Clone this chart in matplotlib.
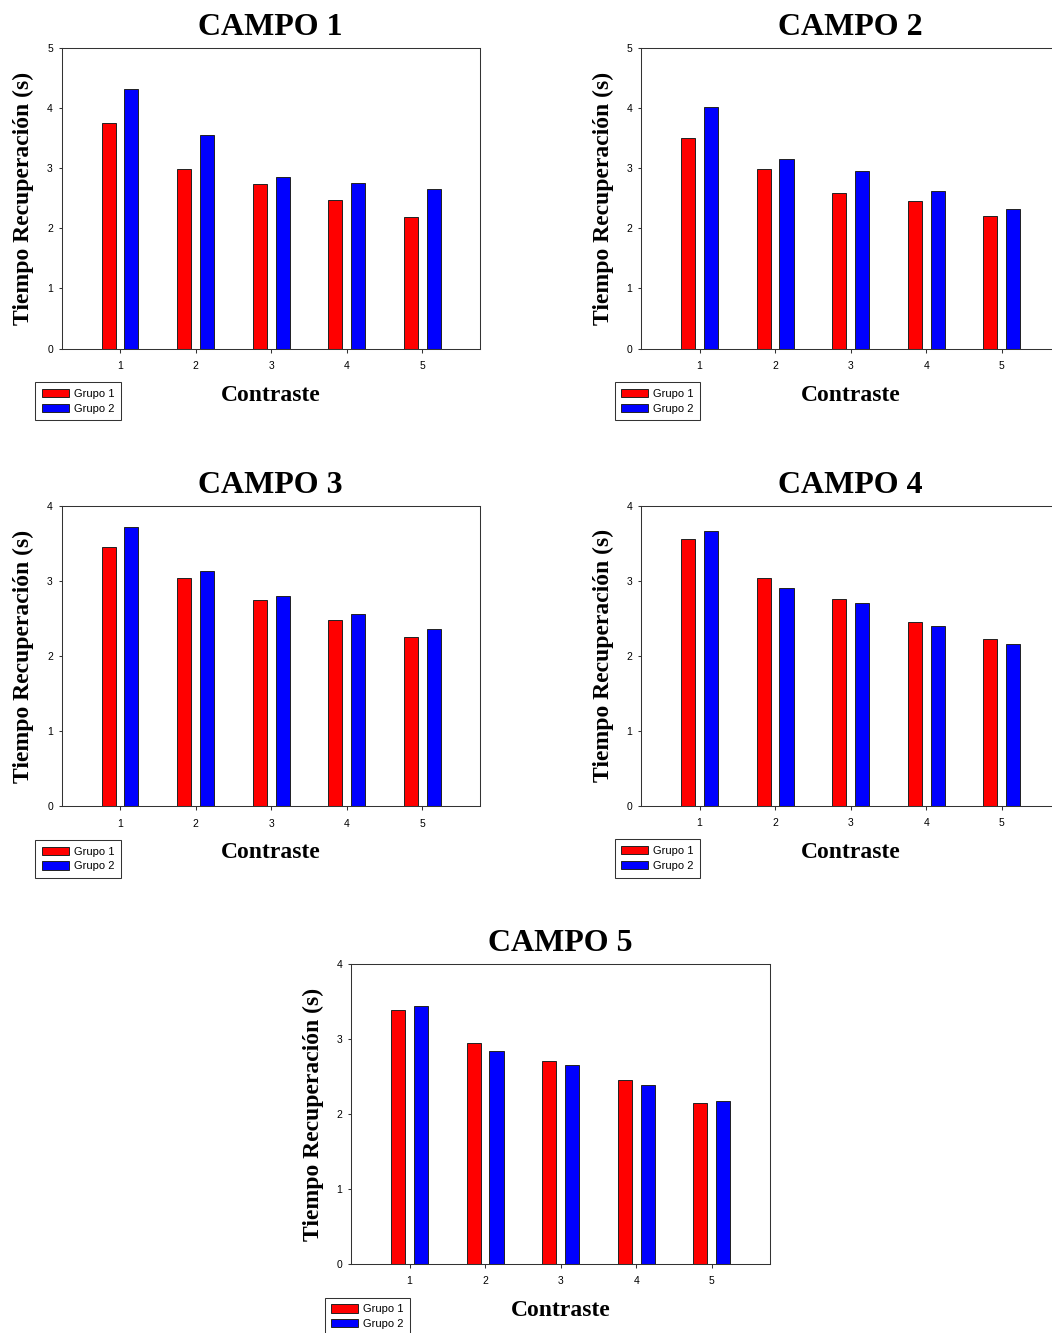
import numpy as np
import matplotlib
matplotlib.use("Agg")
import matplotlib.pyplot as plt

# ---- data ----
contraste = [1, 2, 3, 4, 5]
campo1_g1 = [3.75, 2.98, 2.74, 2.47, 2.19]
campo1_g2 = [4.31, 3.56, 2.86, 2.76, 2.66]
campo2_g1 = [3.50, 2.99, 2.58, 2.46, 2.20]
campo2_g2 = [4.02, 3.16, 2.96, 2.62, 2.32]
campo3_g1 = [3.46, 3.04, 2.75, 2.48, 2.26]
campo3_g2 = [3.72, 3.14, 2.80, 2.57, 2.36]
campo4_g1 = [3.56, 3.04, 2.76, 2.45, 2.23]
campo4_g2 = [3.67, 2.90, 2.71, 2.40, 2.16]
campo5_g1 = [3.39, 2.95, 2.71, 2.46, 2.15]
campo5_g2 = [3.44, 2.84, 2.66, 2.39, 2.17]
titles = ["CAMPO 1", "CAMPO 2", "CAMPO 3", "CAMPO 4", "CAMPO 5"]
ymax = [5, 5, 4, 4, 4]
grupos = ["Grupo 1", "Grupo 2"]

W, H = 1052, 1333
SERIF = "Liberation Serif"
SANS = "Liberation Sans"
plt.rcParams["font.family"] = SANS

fig = plt.figure(figsize=(W / 100, H / 100), dpi=100)

# axes boxes in pixels: left, top, right, bottom
boxes = [(61.5, 48, 480, 348.5), (641, 48, 1059.5, 348.5),
         (61.5, 506.5, 480, 806.3), (641, 505.8, 1059.5, 805.8),
         (351, 964, 769.5, 1264)]
series = [(campo1_g1, campo1_g2), (campo2_g1, campo2_g2), (campo3_g1, campo3_g2),
          (campo4_g1, campo4_g2), (campo5_g1, campo5_g2)]

x = np.array(contraste)
bw, off = 0.186, 0.151
for (l, t, r, b), (g1, g2), title, ym in zip(boxes, series, titles, ymax):
    ax = fig.add_axes([l / W, 1 - b / H, (r - l) / W, (b - t) / H])
    h = b - t
    ax.bar(x - off, g1, bw, color="#ff0000", edgecolor="#222222", lw=0.7, label=grupos[0])
    ax.bar(x + off, g2, bw, color="#0000ff", edgecolor="#222222", lw=0.7, label=grupos[1])
    ax.set_xlim(0.225, 5.765)
    ax.set_ylim(0, ym)
    ax.set_xticks(contraste)
    ax.set_yticks(range(ym + 1))
    for s in ax.spines.values():
        s.set_linewidth(0.75); s.set_color("#333333")
    ax.tick_params(axis="x", length=3, width=0.75, pad=6, labelsize=7.5, color="#333333")
    ax.tick_params(axis="y", length=2.2, width=0.75, pad=4, labelsize=7.5, color="#333333")
    ax.set_title(title, family=SERIF, weight="bold", fontsize=23, pad=9.5)
    ax.set_xlabel("Contraste", family=SERIF, weight="bold", fontsize=17, va="baseline")
    ax.xaxis.set_label_coords(0.5, -52 / h)
    ax.set_ylabel("Tiempo Recuperación (s)", family=SERIF, weight="bold", fontsize=17,
                  va="baseline")
    ax.yaxis.set_label_coords(-32.5 / (r - l), 0.5)
    ax.legend(loc="upper left", bbox_to_anchor=(-26.5 / (r - l), -33.5 / h),
              borderaxespad=0, fontsize=8, frameon=True, fancybox=False,
              edgecolor="#333333", framealpha=1, handlelength=2.4, handleheight=0.77,
              handletextpad=0.45, labelspacing=0.42, borderpad=0.62).get_frame().set_linewidth(0.75)

fig.savefig("out.png", dpi=100)
